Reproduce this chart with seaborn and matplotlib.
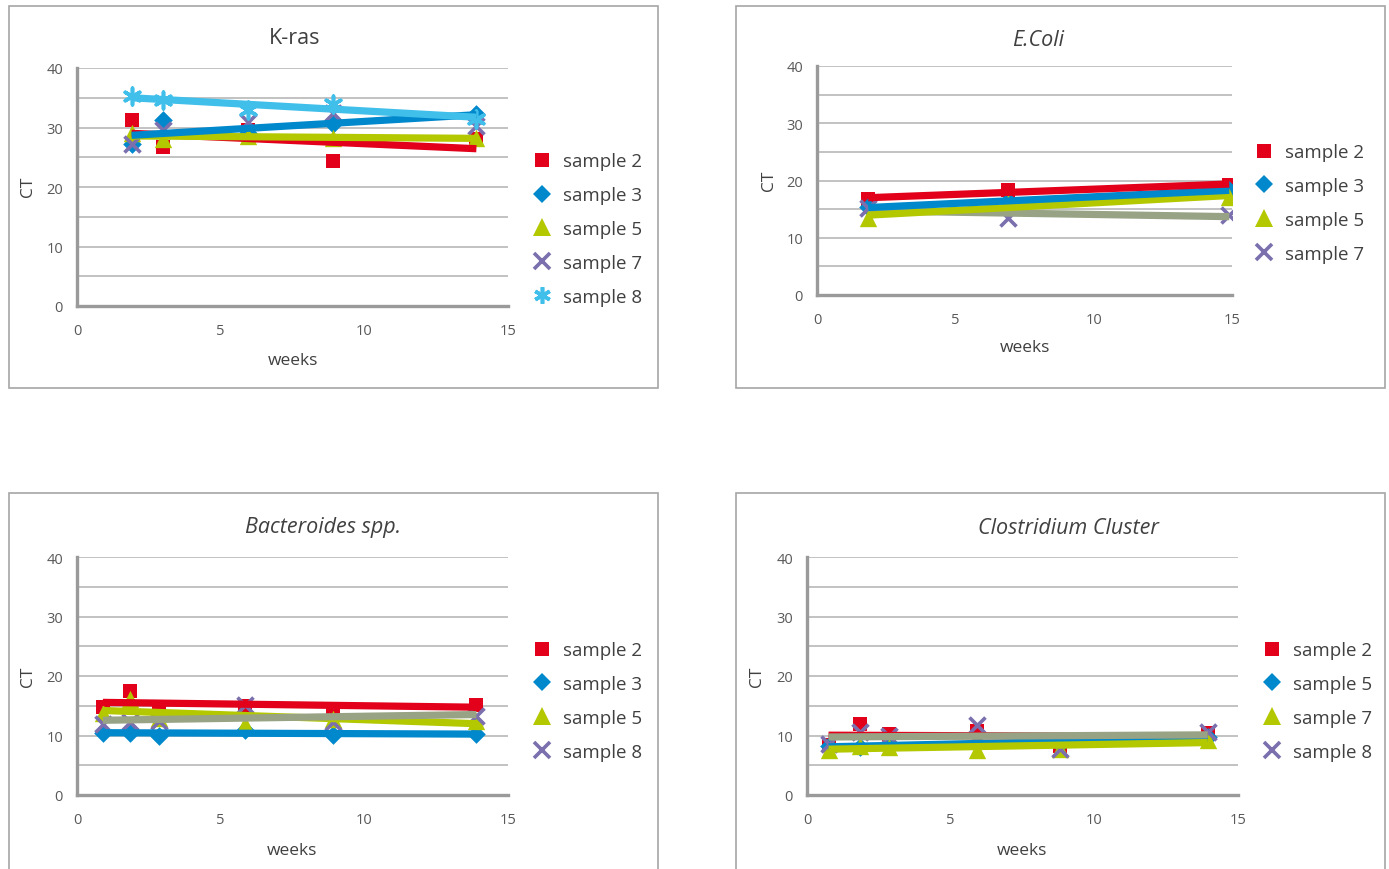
import numpy as np
import matplotlib
matplotlib.use("Agg")
import matplotlib.pyplot as plt
from matplotlib.lines import Line2D
from matplotlib.patches import Rectangle
import seaborn as sns

# ---- data (CT values per week) ----
kras_weeks = [1.9, 3.0, 5.95, 8.9, 13.9]
kras_s2 = [31.2, 26.8, 29.6, 24.3, 28.0]
kras_s3 = [27.3, 31.2, 29.0, 30.6, 32.3]
kras_s5 = [29.0, 28.0, 28.6, 28.3, 28.2]
kras_s7 = [27.3, 29.5, 31.0, 32.5, 30.3]
kras_s8 = [35.3, 34.6, 33.0, 34.0, 31.5]

ecoli_weeks = [1.85, 6.9, 14.9]
ecoli_s2 = [16.7, 18.4, 19.2]
ecoli_s3 = [15.3, 16.4, 18.3]
ecoli_s5 = [13.5, 16.0, 17.1]
ecoli_s7 = [15.2, 13.5, 14.0]

bact_weeks = [0.9, 1.85, 2.85, 5.85, 8.9, 13.9]
bact_s2 = [14.8, 17.4, 14.8, 14.9, 14.5, 15.2]
bact_s3 = [10.5, 10.5, 10.0, 11.0, 10.1, 10.2]
bact_s5 = [13.8, 16.2, 13.0, 12.0, 12.8, 12.5]
bact_s8 = [12.0, 12.3, 12.5, 15.2, 12.2, 13.3]

clos_weeks = [0.75, 1.85, 2.85, 5.9, 8.8, 13.95]
clos_s2 = [8.4, 11.9, 10.2, 10.7, 8.2, 10.4]
clos_s5 = [8.3, 8.0, 8.4, 8.8, 8.6, 9.7]
clos_s7 = [7.6, 8.3, 8.1, 7.6, 7.8, 9.3]
clos_s8 = [8.6, 10.6, 9.9, 11.8, 7.8, 10.6]

RED, BLUE, GREEN = "#e2001a", "#0088cc", "#b4c800"
PURPLE, CYAN, GREY = "#7b6fae", "#40bfea", "#97a384"
TXT = "#404040"

# marker styles in series order: (marker, colour, size in pt, edge width)
STYLES = [("s", RED, 10.5, 0), ("D", BLUE, 9.5, 0), ("^", GREEN, 12.5, 0),
          ("x", PURPLE, 11.5, 2.6), ((6, 2, 0), CYAN, 12, 2.6)]

sns.set_theme(style="white")
plt.rcParams["font.family"] = ["Open Sans", "DejaVu Sans"]

W, H = 1389, 870
fig = plt.figure(figsize=(W / 100, H / 100), dpi=100)


def fx(x):
    return x / W


def fy(y):
    return 1 - y / H


def panel(box, axbox, title, italic, weeks, series, trends, legend_xy, title_xy, xlab_xy, ylab_xy):
    # outer frame of the chart object
    x0, y0, x1, y1 = box
    fig.patches.append(Rectangle((fx(x0), fy(y1)), (x1 - x0) / W, (y1 - y0) / H,
                                 transform=fig.transFigure, fill=False,
                                 ec="#a6a6a6", lw=1.2))
    a0, b0, a1, b1 = axbox
    ax = fig.add_axes([fx(a0), fy(b1), (a1 - a0) / W, (b1 - b0) / H])
    x = np.array(weeks)

    handles, labels = [], []
    for i, (label, vals) in enumerate(series):
        m, c, ms, mew = STYLES[i]
        sns.scatterplot(x=x, y=np.array(vals), ax=ax, marker=m, color=c,
                        s=ms ** 2, linewidth=mew, zorder=3, legend=False)
        handles.append(Line2D([], [], ls="none", marker=m, color=c,
                              markersize=ms, markeredgewidth=mew))
        labels.append(label)

    # linear trend lines, drawn over the markers in the given order
    for z, (idx, col) in enumerate(trends):
        sns.regplot(x=x, y=np.array(series[idx][1]), ax=ax, scatter=False,
                    ci=None, color=col,
                    line_kws={"lw": 5.2, "zorder": 4 + z, "solid_capstyle": "butt"})

    ax.set_xlim(0, 15)
    ax.set_ylim(0, 40)
    ax.set_xticks([0, 5, 10, 15])
    ax.set_yticks(range(0, 45, 5))
    ax.set_yticklabels([str(v) if v % 10 == 0 else "" for v in range(0, 45, 5)])
    ax.set_xlabel("")
    ax.set_ylabel("")
    ax.yaxis.grid(True, color="#bdbdbd", lw=1.3)
    ax.xaxis.grid(False)
    ax.set_axisbelow(True)
    for s in ("top", "right"):
        ax.spines[s].set_visible(False)
    for s in ("left", "bottom"):
        ax.spines[s].set_color("#9a9a9a")
        ax.spines[s].set_linewidth(2.4)
    ax.tick_params(axis="both", length=0, labelsize=10.5, labelcolor="#595959")
    ax.tick_params(axis="x", pad=12)
    ax.tick_params(axis="y", pad=10)

    ax.legend(handles, labels, loc="center left",
              bbox_to_anchor=(fx(legend_xy[0]), fy(legend_xy[1])),
              bbox_transform=fig.transFigure, frameon=False, fontsize=13.5,
              handlelength=0.95, handletextpad=0.65, labelspacing=0.85,
              borderpad=0, borderaxespad=0, labelcolor=TXT)

    fig.text(fx(title_xy[0]), fy(title_xy[1]), title, ha="center", va="center",
             fontsize=15.5, color=TXT, style="italic" if italic else "normal")
    fig.text(fx(xlab_xy[0]), fy(xlab_xy[1]), "weeks", ha="center", va="center",
             fontsize=12.5, color=TXT)
    fig.text(fx(ylab_xy[0]), fy(ylab_xy[1]), "CT", ha="center", va="center",
             fontsize=12.5, color=TXT, rotation=90)
    return ax


panel((9, 7, 658, 389), (77, 69, 508, 307), "K-ras", False, kras_weeks,
      [("sample 2", kras_s2), ("sample 3", kras_s3), ("sample 5", kras_s5),
       ("sample 7", kras_s7), ("sample 8", kras_s8)],
      [(0, RED), (2, GREEN), (1, BLUE), (4, CYAN)],
      (533, 230), (295, 39), (293, 361), (28, 187))

panel((736, 7, 1385, 389), (817, 67, 1232, 296), "E.Coli", True, ecoli_weeks,
      [("sample 2", ecoli_s2), ("sample 3", ecoli_s3), ("sample 5", ecoli_s5),
       ("sample 7", ecoli_s7)],
      [(3, GREY), (2, GREEN), (1, BLUE), (0, RED)],
      (1255, 204), (1038, 41), (1025, 348), (769, 181))

panel((9, 494, 658, 890), (77, 558, 508, 796), "Bacteroides spp.", True, bact_weeks,
      [("sample 2", bact_s2), ("sample 3", bact_s3), ("sample 5", bact_s5),
       ("sample 8", bact_s8)],
      [(1, BLUE), (2, GREEN), (3, GREY), (0, RED)],
      (533, 702), (323, 528), (292, 851), (28, 677))

panel((736, 494, 1385, 890), (807, 558, 1238, 796), "Clostridium Cluster", True, clos_weeks,
      [("sample 2", clos_s2), ("sample 5", clos_s5), ("sample 7", clos_s7),
       ("sample 8", clos_s8)],
      [(0, RED), (1, BLUE), (2, GREEN), (3, GREY)],
      (1263, 702), (1068, 528), (1022, 851), (757, 677))

fig.savefig("out.png", dpi=100)
plt.close(fig)
